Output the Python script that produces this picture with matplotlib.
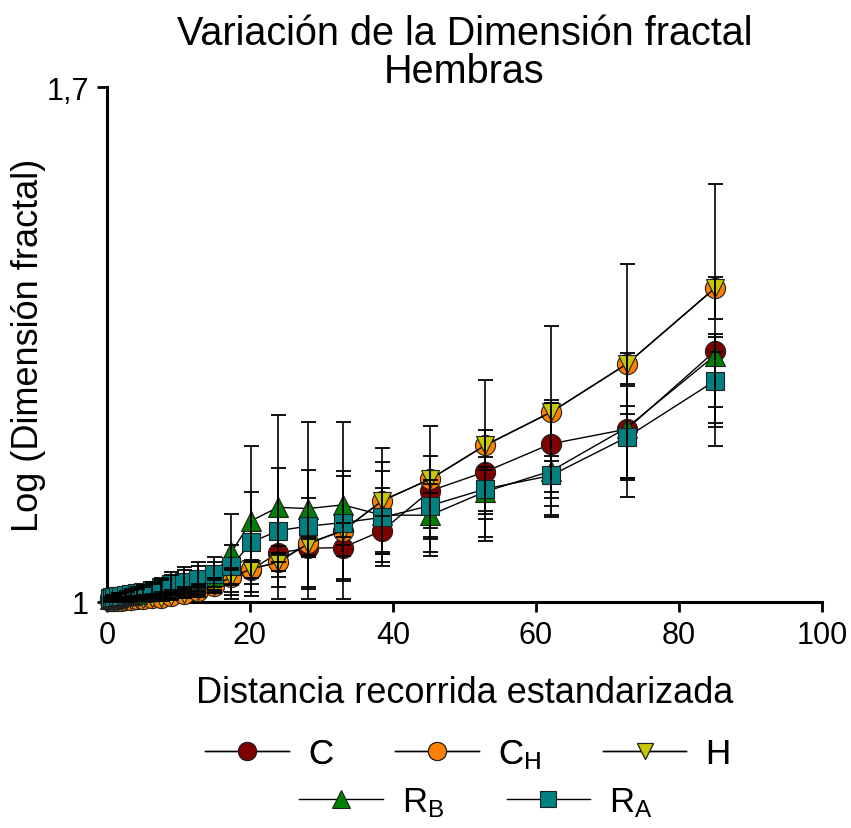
import matplotlib
matplotlib.use('Agg')
import matplotlib.pyplot as plt

plt.rcParams['font.family'] = ['Liberation Sans', 'DejaVu Sans']

# distancia recorrida estandarizada
distancia = [0.35, 0.66, 1.0, 1.5, 1.96, 2.6, 3.35, 4.15, 5.1, 6.25, 7.6, 9.0, 10.8,
             12.7, 14.9, 17.4, 20.2, 23.9, 28.1, 33.0, 38.5, 45.2, 52.9, 62.1, 72.7, 85.0]

# log(dimension fractal) medio por tratamiento
c_med = [1.006, 1.005, 1.005, 1.005, 1.005, 1.005, 1.006, 1.006, 1.007, 1.008, 1.009, 1.011, 1.014,
         1.018, 1.024, 1.035, 1.044, 1.0666, 1.073, 1.074, 1.097, 1.151, 1.177, 1.215, 1.235, 1.3406]
ch_med = [1.001, 1.001, 1.0015, 1.002, 1.002, 1.0025, 1.003, 1.0035, 1.004, 1.005, 1.006, 1.008, 1.011,
          1.015, 1.022, 1.0336, 1.045, 1.054, 1.080, 1.097, 1.1377, 1.167, 1.213, 1.258, 1.3235, 1.4264]
h_med = [1.001, 1.001, 1.0015, 1.002, 1.002, 1.0025, 1.003, 1.0035, 1.004, 1.005, 1.006, 1.008, 1.011,
         1.015, 1.022, 1.0336, 1.045, 1.054, 1.079, 1.097, 1.1377, 1.167, 1.213, 1.258, 1.3235, 1.4264]
rb_med = [1.004, 1.005, 1.006, 1.007, 1.008, 1.009, 1.010, 1.011, 1.013, 1.015, 1.018, 1.022, 1.026,
          1.031, 1.036, 1.0676, 1.1105, 1.1287, 1.127, 1.132, 1.118, 1.118, 1.150, 1.178, 1.237, 1.3348]
ra_med = [1.005, 1.0063, 1.0068, 1.0078, 1.0086, 1.0095, 1.011, 1.0122, 1.014, 1.0168, 1.020, 1.0245, 1.0276,
          1.031, 1.038, 1.049, 1.081, 1.097, 1.103, 1.108, 1.115, 1.131, 1.1536, 1.172, 1.224, 1.3004]

# barras de error (hacia abajo, hacia arriba)
c_inf = [0.001, 0.001, 0.001, 0.001, 0.001, 0.002, 0.002, 0.002, 0.003, 0.003, 0.004, 0.005, 0.006,
         0.007, 0.008, 0.010, 0.012, 0.012, 0.012, 0.012, 0.032, 0.065, 0.064, 0.084, 0.066, 0.076]
c_sup = [0.001, 0.001, 0.001, 0.001, 0.001, 0.002, 0.002, 0.002, 0.003, 0.003, 0.004, 0.005, 0.006,
         0.007, 0.008, 0.010, 0.010, 0.010, 0.012, 0.015, 0.020, 0.015, 0.020, 0.055, 0.020, 0.020]
ch_inf = [0.001, 0.001, 0.001, 0.001, 0.001, 0.002, 0.002, 0.002, 0.003, 0.003, 0.004, 0.005, 0.006,
          0.008, 0.010, 0.020, 0.020, 0.020, 0.060, 0.066, 0.084, 0.099, 0.130, 0.142, 0.027, 0.042]
ch_sup = [0.001, 0.001, 0.001, 0.001, 0.001, 0.002, 0.002, 0.002, 0.003, 0.003, 0.004, 0.005, 0.006,
          0.008, 0.010, 0.012, 0.012, 0.012, 0.061, 0.074, 0.052, 0.032, 0.021, 0.016, 0.015, 0.015]
h_inf = [0.001, 0.001, 0.001, 0.001, 0.001, 0.001, 0.002, 0.002, 0.002, 0.003, 0.003, 0.004, 0.005,
         0.006, 0.008, 0.010, 0.012, 0.012, 0.015, 0.020, 0.089, 0.104, 0.125, 0.140, 0.181, 0.215]
h_sup = [0.001, 0.001, 0.001, 0.001, 0.001, 0.001, 0.002, 0.002, 0.002, 0.003, 0.003, 0.004, 0.005,
         0.006, 0.008, 0.010, 0.010, 0.010, 0.010, 0.010, 0.071, 0.072, 0.089, 0.117, 0.136, 0.142]
rb_inf = [0.002, 0.002, 0.003, 0.003, 0.004, 0.004, 0.005, 0.006, 0.007, 0.008, 0.010, 0.012, 0.015,
          0.018, 0.020, 0.064, 0.103, 0.124, 0.123, 0.128, 0.050, 0.030, 0.030, 0.028, 0.071, 0.092]
rb_sup = [0.002, 0.003, 0.003, 0.004, 0.004, 0.005, 0.006, 0.007, 0.008, 0.010, 0.012, 0.015, 0.018,
          0.018, 0.025, 0.052, 0.102, 0.125, 0.117, 0.113, 0.060, 0.030, 0.030, 0.020, 0.030, 0.030]
ra_inf = [0.002, 0.002, 0.003, 0.003, 0.004, 0.004, 0.005, 0.006, 0.007, 0.008, 0.010, 0.012, 0.014,
          0.016, 0.018, 0.040, 0.068, 0.077, 0.086, 0.080, 0.050, 0.030, 0.030, 0.030, 0.055, 0.063]
ra_sup = [0.002, 0.003, 0.003, 0.004, 0.004, 0.005, 0.006, 0.008, 0.009, 0.011, 0.013, 0.016, 0.020,
          0.023, 0.017, 0.028, 0.068, 0.085, 0.077, 0.070, 0.040, 0.030, 0.030, 0.020, 0.069, 0.040]

etiquetas = [r'C', r'$\mathregular{C_H}$', r'H', r'$\mathregular{R_B}$', r'$\mathregular{R_A}$']
colores = ['#800000', '#ff8000', '#c8c800', '#008000', '#008080']
marcadores = ['o', 'o', 'v', '^', 's']
tamanos = [14.5, 14.5, 13.5, 14, 12.5]
medias = [c_med, ch_med, h_med, rb_med, ra_med]
errores = [(c_inf, c_sup), (ch_inf, ch_sup), (h_inf, h_sup), (rb_inf, rb_sup), (ra_inf, ra_sup)]

fig = plt.figure(figsize=(8.51, 8.29), dpi=100)
ax = fig.add_axes([107 / 851, 1 - 603 / 829, 715 / 851, 515 / 829])

lineas = []
for i in range(5):
    ln, = ax.plot(distancia, medias[i], color='black', lw=1.0, marker=marcadores[i],
                  ms=tamanos[i], mfc=colores[i], mec='#202020', mew=0.8,
                  zorder=3 + i, clip_on=False)
    lineas.append(ln)

for i in range(5):
    ax.errorbar(distancia, medias[i], yerr=[errores[i][0], errores[i][1]], fmt='none',
                ecolor='black', elinewidth=1.2, capsize=5.4, capthick=1.3, zorder=9,
                clip_on=False)

ax.set_xlim(0, 100)
ax.set_ylim(1, 1.7)
ax.set_xticks([0, 20, 40, 60, 80, 100])
ax.set_yticks([1, 1.7])
ax.set_yticklabels(['1', '1,7'])
ax.tick_params(labelsize=22, width=2, length=7, direction='out', pad=6)
for lado in ['top', 'right']:
    ax.spines[lado].set_visible(False)
for lado in ['left', 'bottom']:
    ax.spines[lado].set_linewidth(2.2)

ax.set_xlabel('Distancia recorrida estandarizada', fontsize=26, labelpad=18)
ax.set_ylabel('Log (Dimensión fractal)', fontsize=26, labelpad=0)

fig.text(464.5 / 851, 1 - 34 / 829, 'Variación de la Dimensión fractal', fontsize=28.5,
         ha='center', va='center')
fig.text(464.5 / 851, 1 - 72 / 829, 'Hembras', fontsize=28.5, ha='center', va='center')

leg1 = fig.legend(lineas[:3], etiquetas[:3], ncol=3, loc='center', bbox_to_anchor=(468 / 851, 1 - 755 / 829),
                  frameon=False, fontsize=25, handlelength=2.4, handletextpad=0.55,
                  columnspacing=1.8, markerscale=0.9)
fig.legend(lineas[3:], etiquetas[3:], ncol=2, loc='center', bbox_to_anchor=(476 / 851, 1 - 803 / 829),
           frameon=False, fontsize=25, handlelength=2.4, handletextpad=0.55,
           columnspacing=1.8, markerscale=0.9)
fig.add_artist(leg1)

fig.savefig('out.png', dpi=100)
